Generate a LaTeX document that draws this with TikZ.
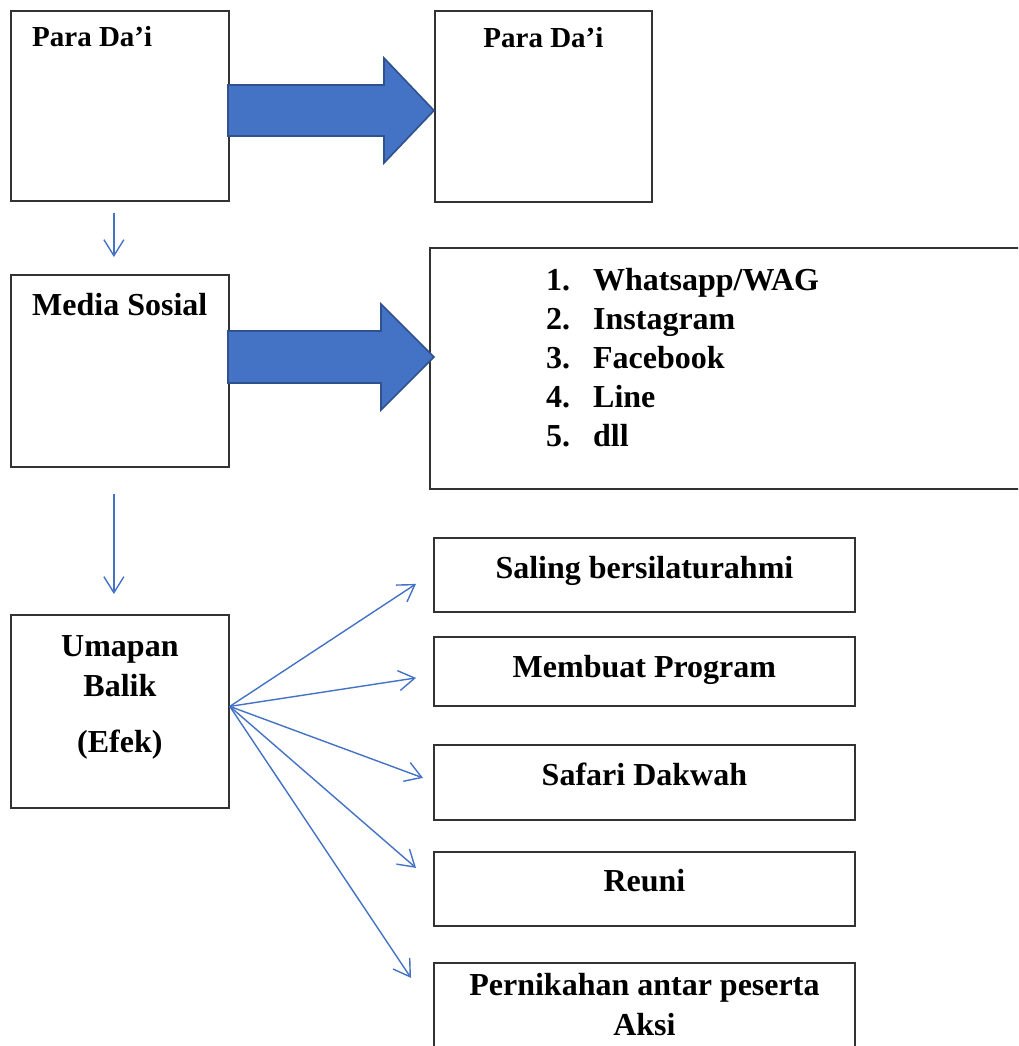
\documentclass[tikz,border=0pt]{standalone}
\usepackage{fontspec}
\setmainfont{Liberation Serif}
\usetikzlibrary{arrows.meta}
\definecolor{arrowblue}{RGB}{68,114,196}
\definecolor{arrowedge}{RGB}{47,82,143}

\begin{document}
\begin{tikzpicture}[x=1pt, y=-1pt,
  box/.style={draw=black!80, line width=1.8pt, anchor=north west, inner sep=0pt},
  txt/.style={font=\bfseries\fontsize{32}{40}\selectfont, inner sep=0pt},
  small/.style={font=\bfseries\fontsize{29}{35}\selectfont, inner sep=0pt},
  flow/.style={draw=arrowblue, line width=1.4pt, -{Straight Barb[length=16pt,width=20pt]}},
  fat/.style={fill=arrowblue, draw=arrowedge, line width=1.6pt, line join=miter}]
\useasboundingbox (0,0) rectangle (1018,1046);
\clip (0,0) rectangle (1018,1046);
\fill[white] (0,0) rectangle (1018,1046);

\node[box, minimum width=218, minimum height=190] (dai1) at (10,10) {};
\node[box, minimum width=217, minimum height=191] (dai2) at (434,10) {};
\node[box, minimum width=218, minimum height=192] (medsos) at (10,274) {};
\node[box, minimum width=600, minimum height=241] (daftar) at (429,247) {};
\node[box, minimum width=218, minimum height=193] (umpan) at (10,614) {};
\node[box, minimum width=421, minimum height=74] (silat) at (433,537) {};
\node[box, minimum width=421, minimum height=69] (program) at (433,636) {};
\node[box, minimum width=421, minimum height=75] (safari) at (433,744) {};
\node[box, minimum width=421, minimum height=74] (reuni) at (433,851) {};
\node[box, minimum width=421, minimum height=100] (nikah) at (433,962) {};

\node[small, anchor=base west] (dai1txt) at ([xshift=22pt, yshift=-37pt]dai1.north west) {Para Da’i};
\node[small, anchor=base] (dai2txt) at ([yshift=-38pt]dai2.north) {Para Da’i};
\node[txt, anchor=base west] (medsostxt) at ([xshift=22pt, yshift=-41pt]medsos.north west) {Media Sosial};
\node[txt, font=\bfseries\fontsize{32}{39}\selectfont, anchor=base west] (daftartxt) at ([xshift=117pt, yshift=-43pt]daftar.north west) {\begin{tabular}[t]{@{}l@{\hspace{23pt}}l@{}}
1.&Whatsapp/WAG\\
2.&Instagram\\
3.&Facebook\\
4.&Line\\
5.&dll
\end{tabular}};
\node[txt, anchor=base, align=center] (umpantxt) at ([yshift=-138pt]umpan.north) {Umapan\\Balik\\[16pt](Efek)};
\node[txt, anchor=base] (silattxt) at ([yshift=-41pt]silat.north) {Saling bersilaturahmi};
\node[txt, anchor=base] (programtxt) at ([yshift=-41pt]program.north) {Membuat Program};
\node[txt, anchor=base] (safaritxt) at ([yshift=-41pt]safari.north) {Safari Dakwah};
\node[txt, anchor=base] (reunitxt) at ([yshift=-40pt]reuni.north) {Reuni};
\node[txt, anchor=base, align=center] (nikahtxt) at ([yshift=-73pt]nikah.north) {Pernikahan antar peserta\\Aksi};

\draw[fat] (228,85) -- (384,85) -- (384,58) -- (434,110.5) -- (384,163) -- (384,136) -- (228,136) -- cycle;
\draw[fat] (228,331) -- (381,331) -- (381,304) -- (434,357) -- (381,410) -- (381,383) -- (228,383) -- cycle;

\draw[flow, shorten <=11pt, shorten >=17pt] ([xshift=-6pt]dai1.south) -- ([xshift=-6pt]medsos.north);
\draw[flow, shorten <=26pt, shorten >=20pt] ([xshift=-6pt]medsos.south) -- ([xshift=-6pt]umpan.north);

\coordinate (fan) at ([yshift=5pt]umpan.east);
\draw[flow] (fan) -- ([xshift=-17pt, yshift=-9pt]silat.west);
\draw[flow] (fan) -- ([xshift=-17pt, yshift=-6.5pt]program.west);
\draw[flow] (fan) -- ([xshift=-10pt, yshift=4.5pt]safari.west);
\draw[flow] (fan) -- ([xshift=-17pt, yshift=21pt]reuni.west);
\draw[flow] (fan) -- ([xshift=-22pt, yshift=35pt]nikah.west);

\end{tikzpicture}
\end{document}
